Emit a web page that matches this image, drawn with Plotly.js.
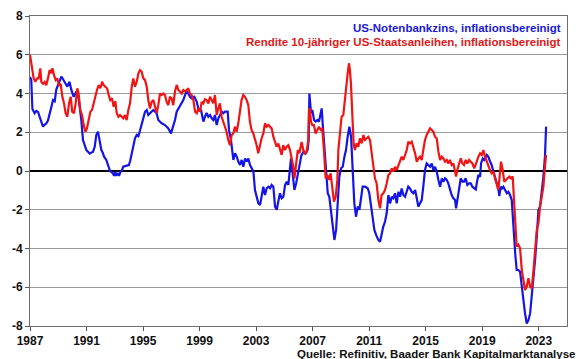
<!DOCTYPE html>
<html>
<head>
<meta charset="utf-8">
<script src="https://cdn.plot.ly/plotly-3.0.1.min.js"></script>
<style>html,body{margin:0;padding:0;background:#fff;}#chart{width:580px;height:359px;}</style>
</head>
<body>
<div id="chart"></div>
<script>
// Series names (legend text)
const seriesNames = ["US-Notenbankzins, inflationsbereinigt", "Rendite 10-jähriger US-Staatsanleihen, inflationsbereinigt"];
const sourceText = "Quelle: Refinitiv, Baader Bank Kapitalmarktanalyse";

// X ticks
const xTickVals = [1987, 1991, 1995, 1999, 2003, 2007, 2011, 2015, 2019, 2023];
const xTickText = ["1987", "1991", "1995", "1999", "2003", "2007", "2011", "2015", "2019", "2023"];
// Y ticks
const yTickVals = [-8, -6, -4, -2, 0, 2, 4, 6, 8];
const yTickText = ["-8", "-6", "-4", "-2", "0", "2", "4", "6", "8"];

// Blue: US-Notenbankzins, inflationsbereinigt (decimal years)
const blueYears = [1987.00,1987.09,1987.17,1987.33,1987.45,1987.57,1987.68,1987.80,1987.92,1988.05,1988.15,1988.27,1988.39,1988.51,1988.63,1988.75,1988.86,1988.98,1989.10,1989.22,1989.33,1989.45,1989.55,1989.64,1989.72,1989.80,1989.92,1990.00,1990.09,1990.18,1990.28,1990.44,1990.55,1990.63,1990.75,1990.87,1990.99,1991.10,1991.22,1991.34,1991.46,1991.58,1991.69,1991.81,1991.93,1992.05,1992.15,1992.24,1992.40,1992.52,1992.64,1992.75,1992.87,1992.95,1993.02,1993.10,1993.20,1993.30,1993.40,1993.49,1993.60,1993.72,1993.84,1994.00,1994.10,1994.20,1994.31,1994.43,1994.55,1994.67,1994.79,1994.90,1995.02,1995.14,1995.26,1995.37,1995.49,1995.61,1995.73,1995.85,1995.96,1996.08,1996.20,1996.32,1996.55,1996.79,1996.98,1997.14,1997.26,1997.38,1997.50,1997.62,1997.74,1997.85,1997.97,1998.09,1998.20,1998.32,1998.44,1998.63,1998.80,1998.91,1999.10,1999.27,1999.38,1999.50,1999.62,1999.74,1999.86,1999.97,2000.09,2000.21,2000.33,2000.45,2000.57,2000.68,2000.80,2000.99,2001.08,2001.22,2001.39,2001.51,2001.63,2001.74,2001.86,2001.98,2002.10,2002.22,2002.34,2002.45,2002.57,2002.69,2002.81,2002.92,2003.04,2003.16,2003.28,2003.40,2003.51,2003.63,2003.75,2003.87,2003.99,2004.10,2004.22,2004.34,2004.46,2004.57,2004.69,2004.81,2004.93,2005.05,2005.17,2005.28,2005.40,2005.47,2005.56,2005.71,2005.83,2005.95,2006.06,2006.20,2006.35,2006.50,2006.65,2006.72,2006.77,2006.89,2006.98,2007.10,2007.22,2007.33,2007.45,2007.57,2007.64,2007.71,2007.83,2007.95,2008.07,2008.18,2008.30,2008.42,2008.54,2008.66,2008.78,2008.89,2009.01,2009.13,2009.25,2009.36,2009.48,2009.60,2009.72,2009.84,2009.95,2010.07,2010.19,2010.31,2010.42,2010.54,2010.71,2010.90,2011.01,2011.13,2011.25,2011.37,2011.49,2011.65,2011.77,2011.89,2012.00,2012.12,2012.24,2012.36,2012.48,2012.60,2012.71,2012.83,2012.95,2013.07,2013.19,2013.30,2013.42,2013.54,2013.66,2013.77,2013.89,2014.01,2014.13,2014.25,2014.37,2014.48,2014.60,2014.72,2014.83,2014.95,2015.07,2015.19,2015.31,2015.43,2015.54,2015.66,2015.78,2015.90,2016.02,2016.14,2016.25,2016.37,2016.49,2016.60,2016.72,2016.84,2016.96,2017.08,2017.15,2017.27,2017.36,2017.48,2017.60,2017.71,2017.83,2017.95,2018.07,2018.19,2018.30,2018.44,2018.55,2018.61,2018.73,2018.85,2018.92,2019.04,2019.15,2019.32,2019.43,2019.55,2019.67,2019.79,2019.91,2020.03,2020.14,2020.21,2020.31,2020.40,2020.50,2020.62,2020.74,2020.85,2020.97,2021.09,2021.16,2021.25,2021.35,2021.44,2021.56,2021.68,2021.80,2021.91,2022.03,2022.15,2022.27,2022.39,2022.51,2022.63,2022.74,2022.86,2022.98,2023.09,2023.21,2023.33,2023.44,2023.52];
const blueValues = [4.85,4.7,3.2,2.98,3.1,3.05,2.8,2.55,2.29,2.4,2.45,2.6,2.9,3.3,3.66,3.6,4.2,4.4,4.6,4.87,4.75,4.6,4.45,4.35,4.5,4.6,4.2,4.0,3.83,3.95,4.1,3.75,3.1,2.63,1.6,1.3,1.08,1.0,0.9,0.95,1.0,1.25,1.86,2.03,1.5,1.08,0.95,0.74,0.57,0.31,0.05,-0.05,-0.12,-0.25,-0.05,-0.25,-0.1,-0.25,-0.05,0.0,0.22,0.25,0.26,0.3,0.55,0.91,1.25,1.69,1.86,1.8,2.1,2.37,2.72,3.06,3.15,2.89,2.98,3.06,3.15,3.06,2.98,2.63,2.55,2.46,2.37,2.2,1.94,2.29,2.63,3.06,3.23,3.32,3.49,3.66,3.92,4.1,4.0,3.83,3.75,3.83,3.57,3.23,3.15,2.55,2.8,3.0,2.8,2.89,2.72,2.63,2.89,2.37,2.72,2.89,3.06,2.98,3.06,3.06,2.12,1.6,0.57,0.91,0.74,0.49,0.31,0.57,0.22,0.65,0.49,0.65,0.31,0.14,-0.03,-0.98,-1.33,-1.67,-1.76,-1.15,-0.81,-1.24,-0.89,-0.81,-0.89,-0.72,-0.81,-1.84,-2.0,-1.58,-1.15,-1.41,-1.33,-0.72,-0.55,-0.72,0.22,0.65,0.05,-0.98,-0.64,-0.12,0.14,0.8,1.0,0.9,1.1,1.6,4.0,2.98,3.15,2.63,2.55,2.63,2.55,2.89,3.23,2.46,1.25,0.05,-1.15,-1.33,-2.0,-2.87,-3.56,-3.04,-1.84,-0.29,0.14,0.22,0.74,1.08,1.77,2.29,1.77,0.22,-1.67,-2.36,-1.84,-2.0,-1.33,-0.81,-0.81,-0.89,-1.15,-1.84,-2.36,-3.04,-3.3,-3.56,-3.65,-3.13,-2.87,-2.62,-2.18,-1.24,-1.67,-1.33,-1.41,-1.15,-1.67,-1.07,-1.33,-0.9,-1.24,-1.33,-0.98,-0.81,-0.9,-1.07,-1.15,-0.98,-1.41,-1.84,-1.67,-1.5,-0.81,0.05,0.39,0.31,0.22,0.39,0.05,0.22,-0.03,-0.46,-0.81,-0.38,-0.55,-0.38,-0.46,-0.64,-0.98,-1.24,-1.41,-1.5,-1.93,-1.33,-0.98,-0.38,-0.55,-0.55,-0.38,-0.72,-0.64,-0.64,-0.81,-0.9,-0.95,-0.64,-0.21,-0.29,0.4,0.65,0.57,0.83,0.74,0.5,0.31,-0.03,-0.38,-0.64,-0.9,-1.29,-0.81,-0.9,-0.81,-0.98,-1.15,-1.07,-1.24,-1.5,-2.36,-3.73,-4.4,-5.11,-5.11,-5.2,-5.97,-6.66,-7.35,-7.87,-7.7,-7.35,-6.49,-5.46,-4.6,-3.39,-2.01,-1.84,-1.15,-0.29,0.74,2.29];

// Red: Rendite 10-jähriger US-Staatsanleihen, inflationsbereinigt
const redYears = [1987.00,1987.14,1987.26,1987.38,1987.50,1987.61,1987.73,1987.80,1987.92,1988.04,1988.15,1988.27,1988.39,1988.51,1988.58,1988.70,1988.82,1988.93,1989.05,1989.17,1989.29,1989.41,1989.52,1989.64,1989.76,1989.88,1989.99,1990.11,1990.23,1990.35,1990.44,1990.56,1990.68,1990.80,1990.92,1991.03,1991.15,1991.27,1991.39,1991.51,1991.62,1991.74,1991.86,1991.98,1992.10,1992.21,1992.33,1992.45,1992.57,1992.68,1992.80,1992.92,1993.04,1993.14,1993.26,1993.37,1993.49,1993.60,1993.72,1993.84,1993.96,1994.08,1994.20,1994.31,1994.43,1994.55,1994.67,1994.79,1994.90,1995.02,1995.14,1995.26,1995.37,1995.49,1995.61,1995.73,1995.85,1995.96,1996.08,1996.20,1996.32,1996.43,1996.55,1996.67,1996.79,1996.90,1997.02,1997.14,1997.26,1997.38,1997.50,1997.62,1997.74,1997.85,1997.97,1998.09,1998.20,1998.32,1998.44,1998.56,1998.68,1998.80,1998.91,1999.03,1999.15,1999.27,1999.38,1999.50,1999.62,1999.74,1999.86,1999.97,2000.09,2000.21,2000.33,2000.44,2000.56,2000.68,2000.80,2000.91,2001.03,2001.15,2001.27,2001.39,2001.50,2001.62,2001.74,2001.86,2001.97,2002.09,2002.21,2002.33,2002.45,2002.56,2002.68,2002.80,2002.92,2003.04,2003.15,2003.27,2003.39,2003.51,2003.63,2003.74,2003.86,2003.98,2004.10,2004.22,2004.33,2004.45,2004.57,2004.69,2004.81,2004.92,2005.04,2005.16,2005.28,2005.40,2005.51,2005.63,2005.71,2005.83,2005.95,2006.06,2006.22,2006.34,2006.46,2006.58,2006.69,2006.74,2006.81,2006.88,2006.98,2007.09,2007.21,2007.33,2007.45,2007.57,2007.68,2007.80,2007.92,2008.04,2008.16,2008.27,2008.39,2008.51,2008.63,2008.75,2008.82,2008.93,2009.05,2009.17,2009.29,2009.41,2009.48,2009.57,2009.64,2009.71,2009.81,2009.90,2009.99,2010.11,2010.23,2010.35,2010.47,2010.59,2010.70,2010.82,2010.94,2011.06,2011.18,2011.29,2011.41,2011.53,2011.65,2011.77,2011.88,2012.00,2012.12,2012.24,2012.36,2012.48,2012.60,2012.71,2012.83,2012.95,2013.07,2013.19,2013.30,2013.42,2013.54,2013.66,2013.77,2013.89,2014.01,2014.13,2014.25,2014.37,2014.48,2014.60,2014.72,2014.83,2014.95,2015.07,2015.19,2015.31,2015.43,2015.54,2015.66,2015.78,2015.90,2016.02,2016.14,2016.25,2016.37,2016.49,2016.60,2016.72,2016.84,2016.96,2017.08,2017.15,2017.27,2017.36,2017.48,2017.60,2017.71,2017.83,2017.95,2018.07,2018.19,2018.30,2018.44,2018.49,2018.61,2018.73,2018.85,2018.97,2019.08,2019.20,2019.32,2019.43,2019.55,2019.67,2019.79,2019.91,2020.03,2020.14,2020.21,2020.33,2020.45,2020.56,2020.68,2020.80,2020.92,2021.04,2021.16,2021.25,2021.35,2021.44,2021.56,2021.68,2021.80,2021.91,2022.03,2022.15,2022.27,2022.39,2022.51,2022.63,2022.74,2022.86,2022.98,2023.09,2023.21,2023.33,2023.44,2023.52];
const redValues = [6.0,5.38,4.78,4.6,4.78,4.78,5.3,4.6,4.5,4.6,4.43,4.78,5.21,5.04,5.3,4.95,4.69,4.78,4.43,4.5,3.83,3.49,2.98,2.8,3.49,3.83,3.06,2.98,3.49,4.27,4.0,3.15,2.89,2.37,2.03,2.2,2.63,3.06,3.15,3.49,3.92,4.18,4.43,4.27,4.61,4.43,4.35,4.27,3.92,3.66,3.75,3.32,3.6,2.98,2.8,2.89,2.8,2.72,2.89,2.63,3.15,3.49,4.35,4.78,4.35,4.6,5.04,5.21,5.12,4.78,4.69,4.35,3.66,3.23,3.57,3.66,3.32,2.98,3.4,4.0,3.92,4.0,3.92,3.57,3.4,3.83,3.75,3.4,4.1,4.44,4.18,4.1,4.0,4.18,4.1,4.18,4.27,4.0,3.92,3.66,3.06,2.98,3.23,3.06,3.57,3.49,3.7,3.66,3.49,3.83,3.66,3.49,3.92,2.89,3.23,3.49,2.8,2.55,2.2,2.03,1.6,1.33,1.86,1.94,2.29,2.03,2.46,3.23,3.66,3.92,3.83,3.66,3.4,2.55,2.12,1.94,1.69,1.33,0.91,1.33,1.69,1.94,2.46,2.29,2.37,2.29,2.2,1.77,1.5,1.25,1.42,1.08,0.83,1.33,1.08,1.25,1.33,1.08,0.74,0.22,-0.38,0.39,1.08,0.91,1.5,1.08,0.91,1.0,1.6,3.15,3.23,2.55,2.37,2.37,1.94,2.12,2.29,2.12,2.2,1.08,-0.38,-0.21,-0.46,-0.12,-0.98,-1.58,-1.33,-0.46,1.08,1.77,2.8,2.89,3.83,4.7,5.04,5.56,5.21,4.52,2.8,1.43,1.08,1.43,1.25,1.69,1.43,1.86,1.6,1.69,1.77,1.6,0.91,0.22,-0.38,-0.64,-1.5,-1.93,-1.24,-1.15,-0.98,-0.64,-0.21,-0.12,0.14,-0.03,0.22,0.05,0.31,0.57,0.74,0.57,0.83,1.08,1.51,1.42,1.51,1.25,0.91,0.48,0.65,0.74,0.57,1.08,1.6,1.86,2.03,2.2,2.12,2.03,1.77,1.69,1.0,0.57,0.74,0.65,0.48,0.57,0.39,0.57,0.31,0.39,-0.03,-0.29,0.14,0.39,0.65,0.39,0.31,0.57,0.39,0.57,0.48,0.39,0.14,0.22,0.48,0.74,0.91,0.83,1.08,0.74,0.48,0.31,0.05,-0.12,-0.03,-0.38,-0.72,-0.98,-0.46,0.48,0.05,-0.55,-0.46,-0.38,-0.29,-0.38,-0.29,-1.5,-2.87,-3.9,-3.8,-3.99,-5.11,-5.63,-6.14,-5.97,-5.54,-5.97,-6.06,-5.11,-4.08,-3.05,-2.7,-1.84,-1.33,-0.81,0.22,0.83];

const blueColor = '#1414e6';
const redColor = '#f01414';
const fontFamily = '"Liberation Sans", Arial, Helvetica, sans-serif';

const traces = [
  {x: blueYears, y: blueValues, name: seriesNames[0], type: 'scatter', mode: 'lines',
   line: {color: blueColor, width: 2.2}, hoverinfo: 'skip'},
  {x: redYears, y: redValues, name: seriesNames[1], type: 'scatter', mode: 'lines',
   line: {color: redColor, width: 2.2}, hoverinfo: 'skip'}
];

const layout = {
  width: 580, height: 359,
  margin: {l: 30, r: 13, t: 16, b: 33, pad: 0},
  paper_bgcolor: '#ffffff', plot_bgcolor: '#ffffff',
  showlegend: false,
  font: {family: fontFamily, size: 12, color: '#111', weight: 700},
  xaxis: {
    range: [1987, 2025], tickvals: xTickVals, ticktext: xTickText,
    ticks: 'outside', ticklen: 4, tickcolor: '#555', tickwidth: 1,
    showgrid: false, zeroline: false,
    showline: true, linecolor: '#6e6e6e', linewidth: 1, mirror: true,
    tickfont: {family: fontFamily, size: 12, color: '#111', weight: 700}
  },
  yaxis: {
    range: [-8, 8], tickvals: yTickVals, ticktext: yTickText,
    ticks: 'outside', ticklen: 4, tickcolor: '#555', tickwidth: 1,
    showgrid: true, gridcolor: '#9a9a9a', gridwidth: 1,
    zeroline: true, zerolinecolor: '#000000', zerolinewidth: 2.5,
    showline: true, linecolor: '#6e6e6e', linewidth: 1, mirror: true,
    tickfont: {family: fontFamily, size: 12, color: '#111', weight: 700}
  },
  annotations: [
    {text: seriesNames[0], xref: 'paper', yref: 'paper', x: 0.9926, y: 0.961,
     xanchor: 'right', yanchor: 'middle', showarrow: false,
     font: {family: fontFamily, size: 11.5, color: '#1a1ad0', weight: 700}},
    {text: seriesNames[1], xref: 'paper', yref: 'paper', x: 0.9926, y: 0.916,
     xanchor: 'right', yanchor: 'middle', showarrow: false,
     font: {family: fontFamily, size: 11.5, color: '#e01818', weight: 700}},
    {text: sourceText, xref: 'paper', yref: 'paper', x: 1.0186, y: -0.089,
     xanchor: 'right', yanchor: 'middle', showarrow: false,
     font: {family: fontFamily, size: 11.5, color: '#111', weight: 700}}
  ]
};

Plotly.newPlot('chart', traces, layout, {staticPlot: true, displayModeBar: false});
</script>
</body>
</html>
